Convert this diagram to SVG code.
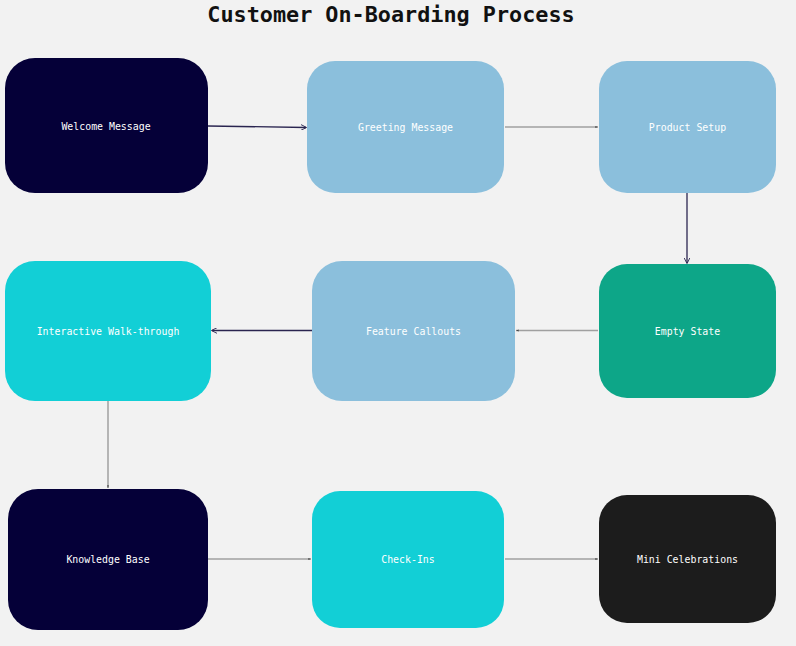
<svg xmlns="http://www.w3.org/2000/svg" width="796" height="646" viewBox="0 0 796 646">
<style>
.lbl{font-family:"DejaVu Sans Mono","Liberation Mono",monospace;font-size:9.9px;fill:#ffffff;text-anchor:middle;dominant-baseline:central}
.title{font-family:"DejaVu Sans Mono","Liberation Mono",monospace;font-size:21.8px;font-weight:bold;fill:#111111;text-anchor:middle}
.dark{stroke:#2a2550;stroke-width:1.3;fill:none}
.gray{stroke:#a0a0a0;stroke-width:1.5;fill:none}
</style>
<defs>
<marker id="ad" viewBox="0 0 10 10" refX="9" refY="5" markerWidth="6" markerHeight="6" orient="auto" markerUnits="userSpaceOnUse"><path d="M0,0 L10,5 L0,10" fill="none" stroke="#2a2550" stroke-width="1.5"/></marker>
<marker id="ag" viewBox="0 0 10 10" refX="9" refY="5" markerWidth="3" markerHeight="3" orient="auto" markerUnits="userSpaceOnUse"><path d="M0,2 L10,5 L0,8z" fill="#444"/></marker>
</defs>
<rect width="796" height="646" fill="#f2f2f2"/>
<text class="title" x="391" y="22">Customer On-Boarding Process</text>
<g id="connectors">
<path class="dark" d="M208,126 L306,127.5" marker-end="url(#ad)"/>
<path class="gray" d="M505,127 L598,127" marker-end="url(#ag)"/>
<path class="dark" d="M687,193 L687,263" marker-end="url(#ad)"/>
<path class="gray" d="M598,330.5 L516,330.5" marker-end="url(#ag)"/>
<path class="dark" d="M312,330.5 L212,330.5" marker-end="url(#ad)"/>
<path class="gray" d="M108,401 L108,488" marker-end="url(#ag)"/>
<path class="gray" d="M208,559 L311,559" marker-end="url(#ag)"/>
<path class="gray" d="M505,559 L598,559" marker-end="url(#ag)"/>
</g>
<g id="welcome"><rect x="5" y="58" width="203" height="135" rx="30" fill="#050038"/><text class="lbl" x="106" y="126">Welcome Message</text></g>
<g id="greeting"><rect x="307" y="61" width="197" height="132" rx="28" fill="#8bbfdc"/><text class="lbl" x="405.5" y="127">Greeting Message</text></g>
<g id="product"><rect x="599" y="61" width="177" height="132" rx="28" fill="#8bbfdc"/><text class="lbl" x="687.5" y="127">Product Setup</text></g>
<g id="interactive"><rect x="5" y="261" width="206" height="140" rx="30" fill="#12cfd6"/><text class="lbl" x="108" y="331">Interactive Walk-through</text></g>
<g id="feature"><rect x="312" y="261" width="203" height="140" rx="30" fill="#8bbfdc"/><text class="lbl" x="413.5" y="331">Feature Callouts</text></g>
<g id="empty"><rect x="599" y="264" width="177" height="134" rx="28" fill="#0da688"/><text class="lbl" x="687.5" y="331">Empty State</text></g>
<g id="knowledge"><rect x="8" y="489" width="200" height="141" rx="30" fill="#050038"/><text class="lbl" x="108" y="559">Knowledge Base</text></g>
<g id="checkins"><rect x="312" y="491" width="192" height="137" rx="28" fill="#12cfd6"/><text class="lbl" x="408" y="559">Check-Ins</text></g>
<g id="mini"><rect x="599" y="495" width="177" height="128" rx="28" fill="#1c1c1c"/><text class="lbl" x="687.5" y="559">Mini Celebrations</text></g>
</svg>
